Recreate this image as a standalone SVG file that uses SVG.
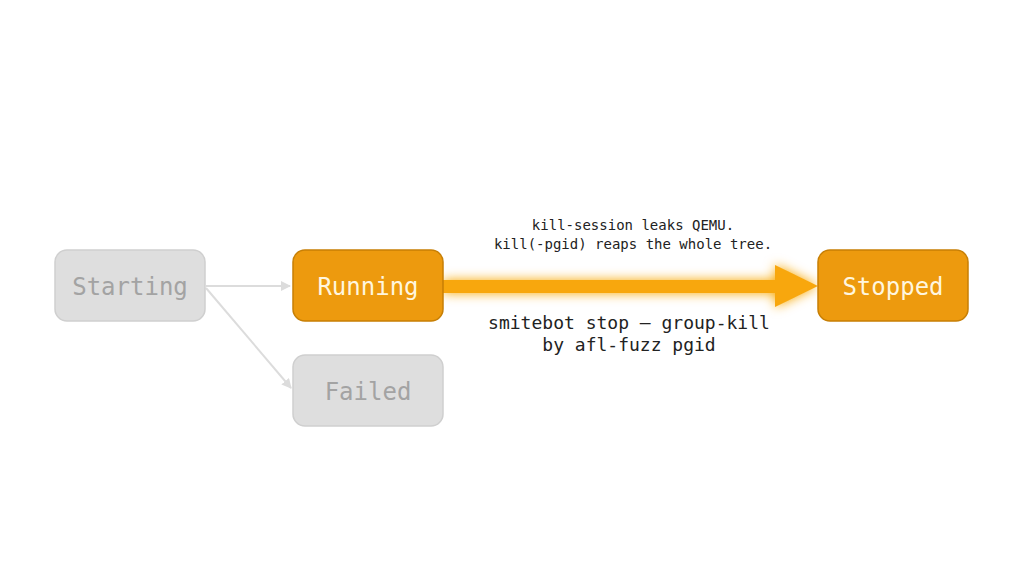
<svg xmlns="http://www.w3.org/2000/svg" width="1024" height="572" viewBox="0 0 1024 572">
<style>
.grey rect{fill:#dedede;stroke:#cfcfcf;stroke-width:1.5}
.grey text{fill:#a3a3a3}
.hot rect{fill:#ed9a0e;stroke:#c77f05;stroke-width:1.5}
.hot text{fill:#fff6df}
.n text{font-family:"DejaVu Sans Mono",monospace;font-size:24px;text-anchor:middle}
.lbl{font-family:"DejaVu Sans Mono",monospace;fill:#222;text-anchor:middle}
</style>
<defs>
<marker id="ga" markerWidth="10" markerHeight="10" refX="9" refY="5" orient="auto" markerUnits="userSpaceOnUse" viewBox="0 0 10 10"><path d="M0,0 L10,5 L0,10Z" fill="#dcdcdc"/></marker>
<filter id="glow" x="-20%" y="-100%" width="140%" height="300%"><feGaussianBlur stdDeviation="6" in="SourceGraphic" result="b"/><feMerge><feMergeNode in="b"/><feMergeNode in="SourceGraphic"/></feMerge></filter>
</defs>
<rect width="1024" height="572" fill="#fff"/>
<g id="connectors">
<line x1="206" y1="286" x2="290" y2="286" stroke="#dcdcdc" stroke-width="2" marker-end="url(#ga)"/>
<line x1="206" y1="288" x2="291" y2="388" stroke="#dcdcdc" stroke-width="2" marker-end="url(#ga)"/>
<g filter="url(#glow)" fill="#f8a70e">
<rect x="443" y="280" width="335" height="13"/>
<path d="M775,265 L818,286 L775,307Z"/>
</g>
<text class="lbl" font-size="14" x="633" y="230">kill-session leaks QEMU.</text>
<text class="lbl" font-size="14" x="633" y="249">kill(-pgid) reaps the whole tree.</text>
<text class="lbl" font-size="18" x="629" y="329">smitebot stop — group-kill</text>
<text class="lbl" font-size="18" x="629" y="351">by afl-fuzz pgid</text>
</g>
<g id="starting" class="n grey"><rect x="55" y="250" width="150" height="71" rx="12"/><text x="130" y="295">Starting</text></g>
<g id="running" class="n hot"><rect x="293" y="250" width="150" height="71" rx="12"/><text x="368" y="295">Running</text></g>
<g id="failed" class="n grey"><rect x="293" y="355" width="150" height="71" rx="12"/><text x="368" y="400">Failed</text></g>
<g id="stopped" class="n hot"><rect x="818" y="250" width="150" height="71" rx="12"/><text x="893" y="295">Stopped</text></g>
</svg>
